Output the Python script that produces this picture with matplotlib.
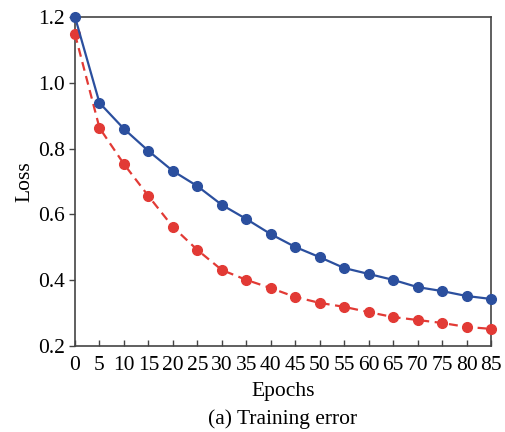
import matplotlib
matplotlib.use("Agg")
import matplotlib.pyplot as plt

epochs = [0, 5, 10, 15, 20, 25, 30, 35, 40, 45, 50, 55, 60, 65, 70, 75, 80, 85]
loss_blue = [1.200, 0.939, 0.860, 0.793, 0.732, 0.686, 0.629, 0.586, 0.540, 0.501,
             0.470, 0.437, 0.419, 0.401, 0.379, 0.367, 0.352, 0.343]
loss_red = [1.148, 0.863, 0.753, 0.656, 0.562, 0.492, 0.431, 0.401, 0.376, 0.349,
            0.331, 0.319, 0.303, 0.288, 0.279, 0.270, 0.258, 0.252]
yticks = [0.2, 0.4, 0.6, 0.8, 1.0, 1.2]

plt.rcParams['font.family'] = ['Liberation Serif', 'DejaVu Serif']

fig = plt.figure(figsize=(5.05, 4.32), dpi=100)
ax = fig.add_axes([75/505, 1 - 346/432, (491-75)/505, (346-17)/432])

ax.plot(epochs, loss_red, color='#e23a35', linestyle='--', linewidth=1.6,
        marker='o', markersize=7, clip_on=False, zorder=3, dashes=(4, 2.5))
ax.plot(epochs, loss_blue, color='#2b4f9e', linestyle='-', linewidth=1.6,
        marker='o', markersize=7, clip_on=False, zorder=4)

ax.set_xlim(0, 85)
ax.set_ylim(0.2, 1.2)
ax.set_xticks(epochs)
ax.set_xticklabels([str(e) for e in epochs])
ax.set_yticks(yticks)
ax.set_yticklabels([f"{v:.1f}" for v in yticks])
ax.tick_params(axis='x', direction='in', length=4, labelsize=15.5, pad=7, width=1, color='#444444')
ax.tick_params(axis='y', direction='out', length=4, labelsize=15.5, pad=3, width=1, color='#444444')
for s in ax.spines.values():
    s.set_color('#444444')
    s.set_linewidth(1.2)

ax.set_xlabel('Epochs', fontsize=15.5, labelpad=5)
ax.set_ylabel('Loss', fontsize=15.5, labelpad=3)
fig.text((75+491)/2/505, 1 - 419/432, '(a) Training error', ha='center', va='center', fontsize=15.5)

fig.savefig('out.png', dpi=100)
